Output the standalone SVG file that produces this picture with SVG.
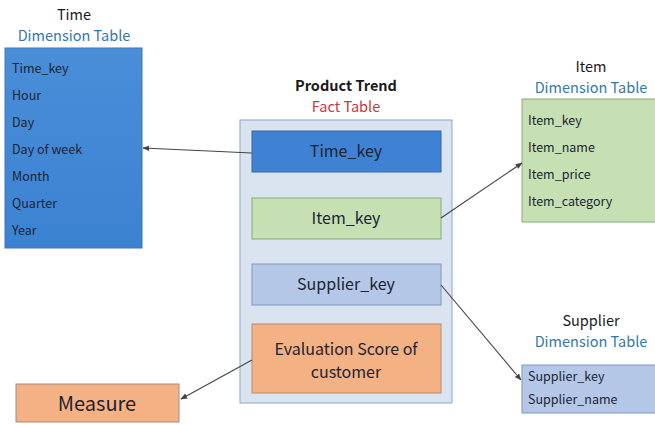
<svg xmlns="http://www.w3.org/2000/svg" width="655" height="425" viewBox="0 0 655 425">
  <defs>
    <linearGradient id="timeFill" x1="0" y1="0" x2="0" y2="1">
      <stop offset="0" stop-color="#4a8ed8"/>
      <stop offset="1" stop-color="#3b82d2"/>
    </linearGradient>
    <marker id="arrow" viewBox="0 0 10 10" refX="9" refY="5" markerWidth="7" markerHeight="7" orient="auto-start-reverse" markerUnits="userSpaceOnUse">
      <path d="M0,1 L10,5 L0,9 z" fill="#444"/>
    </marker>
  </defs>
  <style>
    text { font-family: "Noto Sans CJK KR", "Noto Sans", "Liberation Sans", sans-serif; fill: #1a1a1a; }
    .title { font-size: 14.5px; text-anchor: middle; }
    .bold { font-weight: bold; }
    .sub { font-size: 14.5px; text-anchor: middle; fill: #3577a8; }
    .subred { font-size: 14.5px; text-anchor: middle; fill: #c9393b; }
    .attr { font-size: 12.5px; fill: #1c2433; }
    .key { font-size: 16px; text-anchor: middle; fill: #1c2433; }
    .conn { stroke: #444; stroke-width: 1.1; fill: none; marker-end: url(#arrow); }
  </style>
  <rect width="655" height="425" fill="#ffffff"/>

  <!-- Time dimension -->
  <g id="time-dimension">
    <text class="title" x="74" y="20">Time</text>
    <text class="sub" x="74" y="41">Dimension Table</text>
    <rect x="5" y="48" width="137" height="200" fill="url(#timeFill)" stroke="#3a76bb" stroke-width="1"/>
    <text class="attr" x="12" y="73">Time_key</text>
    <text class="attr" x="12" y="100">Hour</text>
    <text class="attr" x="12" y="127">Day</text>
    <text class="attr" x="12" y="154">Day of week</text>
    <text class="attr" x="12" y="181">Month</text>
    <text class="attr" x="12" y="208">Quarter</text>
    <text class="attr" x="12" y="235">Year</text>
  </g>

  <!-- Product Trend fact table -->
  <g id="fact-table">
    <text class="title bold" x="346" y="91">Product Trend</text>
    <text class="subred" x="346" y="112">Fact Table</text>
    <rect x="240" y="120" width="212" height="283" fill="#dae3f0" stroke="#8ea6c8" stroke-width="1"/>
  </g>
  <g id="fact-time-key">
    <rect x="252" y="131" width="189" height="41" fill="#3f82d3" stroke="#3568a8" stroke-width="1"/>
    <text class="key" x="346" y="157">Time_key</text>
  </g>
  <g id="fact-item-key">
    <rect x="252" y="198" width="189" height="41" fill="#c6e0b4" stroke="#8aaa78" stroke-width="1"/>
    <text class="key" x="346" y="224">Item_key</text>
  </g>
  <g id="fact-supplier-key">
    <rect x="252" y="264" width="189" height="41" fill="#b4c7e7" stroke="#7f97c0" stroke-width="1"/>
    <text class="key" x="346" y="290">Supplier_key</text>
  </g>
  <g id="fact-evaluation">
    <rect x="252" y="324" width="189" height="69" fill="#f4b183" stroke="#b88a6a" stroke-width="1"/>
    <text class="key" x="346" y="355">Evaluation Score of</text>
    <text class="key" x="346" y="378">customer</text>
  </g>

  <!-- Item dimension -->
  <g id="item-dimension">
    <text class="title" x="591" y="72">Item</text>
    <text class="sub" x="591" y="93">Dimension Table</text>
    <rect x="522" y="99" width="140" height="123" fill="#c6e0b4" stroke="#8aaa78" stroke-width="1"/>
    <text class="attr" x="528" y="125">Item_key</text>
    <text class="attr" x="528" y="152">Item_name</text>
    <text class="attr" x="528" y="179">Item_price</text>
    <text class="attr" x="528" y="206">Item_category</text>
  </g>

  <!-- Supplier dimension -->
  <g id="supplier-dimension">
    <text class="title" x="591" y="326">Supplier</text>
    <text class="sub" x="591" y="347">Dimension Table</text>
    <rect x="522" y="365" width="140" height="48" fill="#b4c7e7" stroke="#7f97c0" stroke-width="1"/>
    <text class="attr" x="528" y="381">Supplier_key</text>
    <text class="attr" x="528" y="404">Supplier_name</text>
  </g>

  <!-- Measure -->
  <g id="measure">
    <rect x="16" y="384" width="163" height="38" fill="#f4b183" stroke="#9a8f88" stroke-width="1"/>
    <text x="97" y="411" style="font-size:20px;text-anchor:middle;fill:#1c2433">Measure</text>
  </g>

  <!-- Connectors -->
  <g id="connectors">
    <line class="conn" x1="252" y1="153" x2="143" y2="148"/>
    <line class="conn" x1="441" y1="218" x2="522" y2="163"/>
    <line class="conn" x1="441" y1="285" x2="521" y2="380"/>
    <line class="conn" x1="252" y1="360" x2="181" y2="399"/>
  </g>
</svg>
